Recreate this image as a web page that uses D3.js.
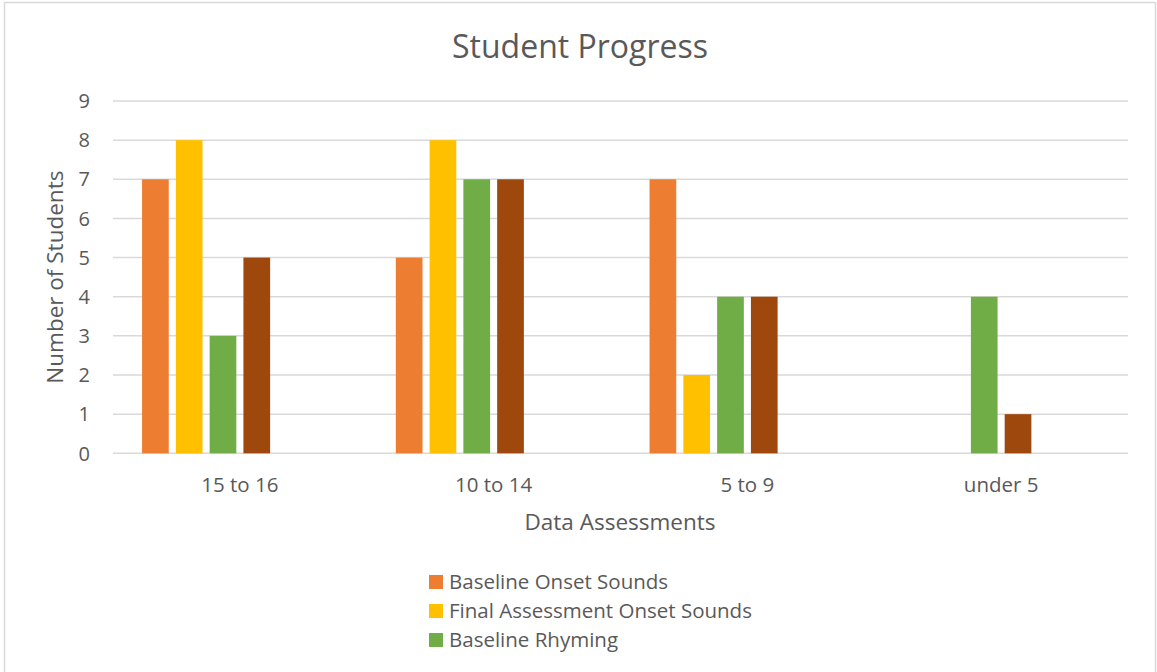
<!DOCTYPE html>
<html>
<head>
<meta charset="utf-8">
<script src="https://cdn.jsdelivr.net/npm/d3@7"></script>
<style>
  body { margin: 0; background: #fff; }
  text { font-family: "Open Sans", Lato, sans-serif; fill: #595959; }
</style>
</head>
<body>
<div class="chart"></div>
<script>
// data
var categories = ["15 to 16", "10 to 14", "5 to 9", "under 5"];
var seriesNames = ["Baseline Onset Sounds", "Final Assessment Onset Sounds", "Baseline Rhyming", "Final Assessment Rhyming"];
var baselineOnset = [7, 5, 7, 0];
var finalOnset = [8, 8, 2, 0];
var baselineRhyming = [3, 7, 4, 4];
var finalRhyming = [5, 7, 4, 1];
var yTicks = [0, 1, 2, 3, 4, 5, 6, 7, 8, 9];
var colors = ["#ED7D31", "#FFC000", "#70AD47", "#9E480E"];

var seriesValues = [baselineOnset, finalOnset, baselineRhyming, finalRhyming];

var width = 1157, height = 672;

var svg = d3.select(".chart").append("svg")
    .attr("width", width)
    .attr("height", height);

//Chart border
svg.append("rect")
    .attr("x", 4.5).attr("y", 2.5)
    .attr("width", 1151).attr("height", 700)
    .attr("fill", "none")
    .attr("stroke", "#d9d9d9")
    .attr("stroke-width", 1.5);

//Plot area
var plotLeft = 113, plotRight = 1128, plotTop = 101, plotBottom = 453.3;

var x = d3.scaleBand().domain(categories).range([plotLeft, plotRight]);

//the original chart keeps room for six bars in every group
var xInner = d3.scaleBand().domain(d3.range(6))
    .range([0, x.bandwidth()])
    .paddingInner(0.21)
    .paddingOuter(0.86);

var y = d3.scaleLinear().domain([0, 9]).range([plotBottom, plotTop]);

//Gridlines
svg.append("g").selectAll("line").data(yTicks).enter().append("line")
    .attr("x1", plotLeft).attr("x2", plotRight)
    .attr("y1", function(d) { return y(d); })
    .attr("y2", function(d) { return y(d); })
    .attr("stroke", "#d9d9d9")
    .attr("stroke-width", 1.5);

//Y tick labels
svg.append("g").selectAll("text").data(yTicks).enter().append("text")
    .attr("x", 90)
    .attr("y", function(d) { return y(d); })
    .attr("dy", "0.36em")
    .attr("text-anchor", "end")
    .style("font-size", "20px")
    .text(function(d) { return d; });

//Bars
var groups = svg.append("g").selectAll("g").data(categories).enter().append("g")
    .attr("transform", function(d) { return "translate(" + x(d) + ",0)"; });

groups.selectAll("rect")
    .data(function(d, i) {
        return seriesValues.map(function(vals, s) { return { s: s, v: vals[i] }; });
    })
    .enter().append("rect")
    .attr("x", function(d) { return xInner(d.s); })
    .attr("y", function(d) { return y(d.v); })
    .attr("width", xInner.bandwidth())
    .attr("height", function(d) { return plotBottom - y(d.v); })
    .attr("fill", function(d) { return colors[d.s]; });

//Category labels
svg.append("g").selectAll("text").data(categories).enter().append("text")
    .attr("x", function(d) { return x(d) + x.bandwidth() / 2; })
    .attr("y", 492)
    .attr("text-anchor", "middle")
    .style("font-size", "20.5px")
    .text(function(d) { return d; });

//Title
svg.append("text")
    .attr("x", 580).attr("y", 58)
    .attr("text-anchor", "middle")
    .style("font-size", "32px")
    .text("Student Progress");

//Axis titles
svg.append("text")
    .attr("x", 620).attr("y", 530)
    .attr("text-anchor", "middle")
    .style("font-size", "22.5px")
    .text("Data Assessments");

svg.append("text")
    .attr("transform", "translate(63," + ((plotTop + plotBottom) / 2) + ") rotate(-90)")
    .attr("text-anchor", "middle")
    .style("font-size", "22.5px")
    .text("Number of Students");

//Legend: only the entries that fit above the bottom edge are shown, like the original
var legendTop = 582, legendStep = 29;
var shownNames = seriesNames.filter(function(d, i) { return legendTop + i * legendStep + 12 < height; });

var legend = svg.append("g").selectAll("g").data(shownNames).enter().append("g")
    .attr("transform", function(d, i) { return "translate(429," + (legendTop + i * legendStep) + ")"; });

legend.append("rect")
    .attr("x", 0).attr("y", -7)
    .attr("width", 14).attr("height", 14)
    .attr("fill", function(d, i) { return colors[i]; });

legend.append("text")
    .attr("x", 20).attr("y", 0)
    .attr("dy", "0.36em")
    .style("font-size", "20.5px")
    .text(function(d) { return d; });
</script>
</body>
</html>
